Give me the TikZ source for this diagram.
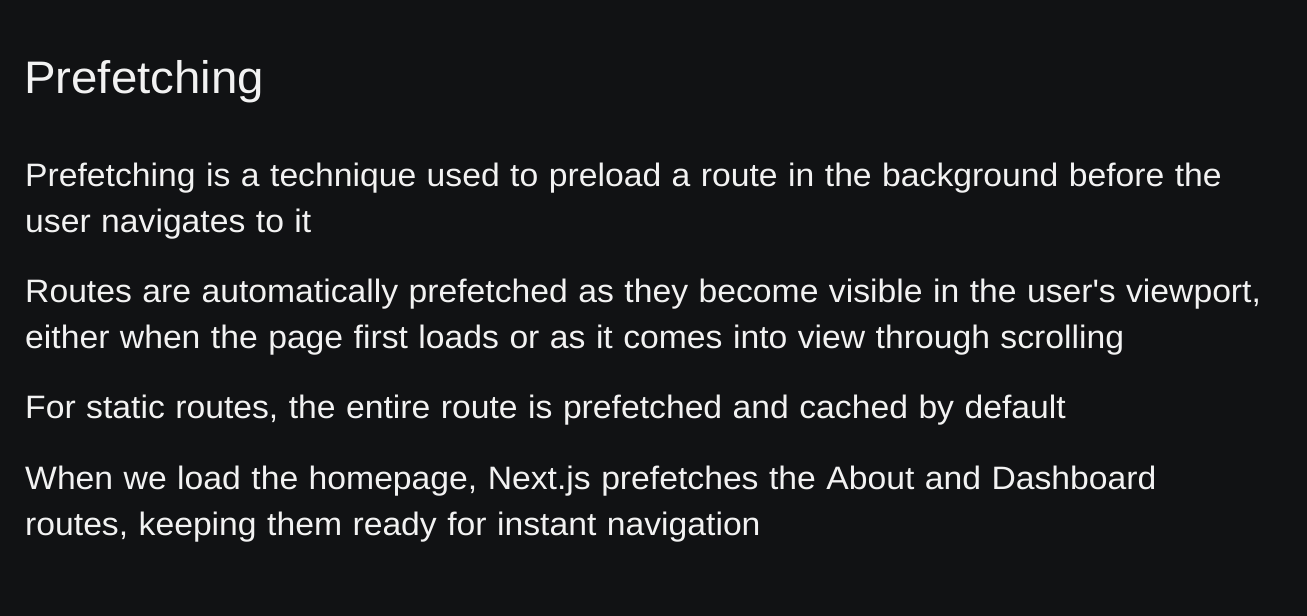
\documentclass[tikz,border=0pt]{standalone}
\usepackage{fontspec}
\setmainfont{Liberation Sans}[FakeStretch = 1.04, WordSpace = 1.12]
\usetikzlibrary{positioning}

\definecolor{slidebg}{HTML}{111214}
\definecolor{slidetext}{HTML}{F2F2F2}

\tikzset{
    heading/.style = {anchor = base west, inner sep = 0pt, text = slidetext, font = \fontsize{45.6}{54}\selectfont},
    bodyline/.style = {anchor = base west, inner sep = 0pt, text = slidetext, font = \fontsize{32.4}{46}\selectfont}
}

\begin{document}
\begin{tikzpicture}[x = 1pt, y = -1pt]
            \fill[slidebg] (0, 0) rectangle (1307, 616);
            \useasboundingbox (0, 0) rectangle (1307, 616);
            
            \node[heading] (title) at (24, 93) {Prefetching};
            
            \node[bodyline] (p1a) at (25, 186) {Prefetching is a technique used to preload a route in the background before the};
            \node[bodyline] (p1b) at (25, 232) {user navigates to it};
            
            \node[bodyline] (p2a) at (25, 302) {Routes are automatically prefetched as they become visible in the user\textquotesingle s viewport,};
            \node[bodyline] (p2b) at (25, 348) {either when the page first loads or as it comes into view through scrolling};
            
            \node[bodyline] (p3) at (25, 418) {For static routes, the entire route is prefetched and cached by default};
            
            \node[bodyline] (p4a) at (25, 489) {When we load the homepage, Next.js prefetches the About and Dashboard};
            \node[bodyline] (p4b) at (25, 535) {routes, keeping them ready for instant navigation};
        \end{tikzpicture}
\end{document}
